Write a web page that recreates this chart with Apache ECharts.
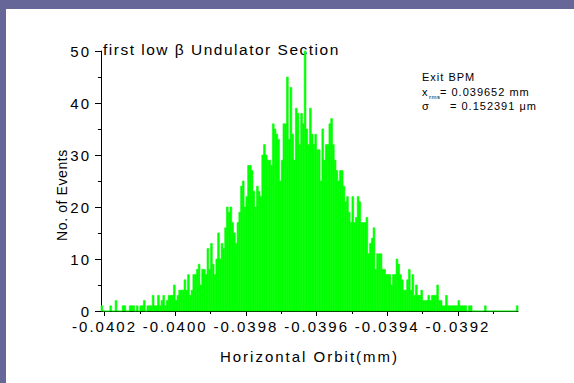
<!DOCTYPE html>
<html>
<head>
<meta charset="utf-8">
<script src="https://cdn.jsdelivr.net/npm/echarts@6/dist/echarts.min.js"></script>
<style>
  html, body { margin: 0; padding: 0; background: #666699; }
  #chart { position: absolute; left: 0; top: 0; width: 574px; height: 383px; }
  #chart text { letter-spacing: 2px; }
  #chart text[style*="15.5px"] { letter-spacing: 1.5px; }
  #chart text[style*="14px"] { letter-spacing: 0.6px; }
  #chart text[style*="11px"] { letter-spacing: 1px; }
  #chart text[style*="6px"] { letter-spacing: 0.5px; }
</style>
</head>
<body>
<div id="chart"></div>
<script>
// Histogram bins: first bin start and bin width (mm)
const binStart = -0.04021;
const binWidth = 0.000005;
// Counts per bin (No. of Events)
const counts = [
  1,0,0,0,0,1,0,0,2,0, 0,0,1,1,0,0,1,1,1,0,
  1,0,1,1,2,0,1,1,1,3, 1,1,3,1,2,3,1,2,3,3,
  3,5,2,3,4,4,4,6,4,7, 3,4,7,7,8,9,5,8,8,7,
  12,8,13,9,7,10,15,10,13,12, 16,20,19,20,17,15,13,17,19,24,
  25,20,22,28,28,27,23,20,24,23, 22,30,32,30,29,29,28,36,35,34,
  33,25,29,36,36,45,33,43,34,29, 39,38,32,38,36,50,35,32,39,34,
  32,34,31,31,25,35,29,32,32,36, 37,32,29,27,25,27,27,24,21,22,
  19,17,22,17,18,22,21,17,17,17, 18,11,13,14,16,8,11,11,11,8,
  8,7,7,7,5,7,7,10,9,7, 6,4,4,6,8,4,7,3,5,3,
  3,4,2,2,2,3,2,3,3,3, 5,2,2,1,1,3,1,1,1,1,
  1,1,2,1,1,1,1,0,1,1, 0,0,0,0,0,0,0,1,0,0,
  0,0,0,0,0,0,0,0,0,0, 0,0,0,0,0,1
];
const xMin = -0.04021, xMax = -0.03903;
const xMajorTicks = [-0.0402, -0.0400, -0.0398, -0.0396, -0.0394, -0.0392];
const xMinorTicks = [-0.0401, -0.0399, -0.0397, -0.0395, -0.0393, -0.0391];

const titleText = 'first low β Undulator Section';
const xName = 'Horizontal Orbit(mm)';
const yName = 'No. of Events';
const infoLine1 = 'Exit BPM';
const xrmsValue = '= 0.039652 mm';
const sigmaValue = '= 0.152391 μm';

const bars = counts.map((c, i) => [binStart + i * binWidth, binStart + (i + 1) * binWidth, c]);

const FONT = "'Liberation Sans', Arial, sans-serif";
const chart = echarts.init(document.getElementById('chart'), null, { renderer: 'svg' });
chart.setOption({
  animation: false,
  backgroundColor: 'transparent',
  graphic: [
    { type: 'rect', shape: { x: 6, y: 9, width: 568, height: 374 }, style: { fill: '#ffffff' }, z: -10 },
    { type: 'text', left: 103, top: 41, style: { text: titleText, fontSize: 15.5, fontFamily: FONT, fill: '#000' } },
    { type: 'text', x: 62, y: 195, rotation: Math.PI / 2,
      style: { text: yName, fontSize: 14, fontFamily: FONT, fill: '#000', align: 'center', verticalAlign: 'middle' } },
    { type: 'text', left: 422, top: 71, style: { text: infoLine1, fontSize: 11, fontFamily: FONT, fill: '#000' } },
    { type: 'text', left: 422, top: 86, style: { text: 'x', fontSize: 11, fontFamily: FONT, fill: '#000' } },
    { type: 'text', left: 429, top: 94, style: { text: 'rms', fontSize: 6, fontFamily: FONT, fill: '#000' } },
    { type: 'text', left: 440, top: 86, style: { text: xrmsValue, fontSize: 11, fontFamily: FONT, fill: '#000' } },
    { type: 'text', left: 422, top: 100, style: { text: 'σ', fontSize: 11, fontFamily: FONT, fill: '#000' } },
    { type: 'text', left: 450, top: 100, style: { text: sigmaValue, fontSize: 11, fontFamily: FONT, fill: '#000' } }
  ],
  grid: { left: 101, right: 56, top: 51, bottom: 72, containLabel: false },
  xAxis: [
    {
      type: 'value', min: xMin, max: xMax, position: 'bottom',
      name: xName, nameLocation: 'middle', nameGap: 38,
      nameTextStyle: { fontSize: 15, fontFamily: FONT, color: '#000' },
      axisLine: { show: true, lineStyle: { color: '#000', width: 1 } },
      axisTick: { show: true, customValues: xMajorTicks, length: 5, lineStyle: { color: '#000' } },
      axisLabel: { show: true, customValues: xMajorTicks, margin: 8, fontSize: 15, fontFamily: FONT, color: '#000',
        formatter: v => v.toFixed(4) },
      splitLine: { show: false }
    },
    {
      type: 'value', min: xMin, max: xMax, position: 'bottom',
      axisLine: { show: false },
      axisTick: { show: true, customValues: xMinorTicks, length: 3, lineStyle: { color: '#000' } },
      axisLabel: { show: false },
      splitLine: { show: false }
    }
  ],
  yAxis: {
    type: 'value', min: 0, max: 50, interval: 10,
    axisLine: { show: true, lineStyle: { color: '#000', width: 1 } },
    axisTick: { show: true, length: 6, lineStyle: { color: '#000' } },
    minorTick: { show: true, splitNumber: 2, length: 3, lineStyle: { color: '#000' } },
    axisLabel: { margin: 10, fontSize: 15, fontFamily: FONT, color: '#000' },
    splitLine: { show: false }
  },
  series: [{
    type: 'custom',
    xAxisIndex: 0,
    yAxisIndex: 0,
    encode: { x: [0, 1], y: 2 },
    data: bars,
    renderItem: function (params, api) {
      const p0 = api.coord([api.value(0), api.value(2)]);
      const p1 = api.coord([api.value(1), 0]);
      return {
        type: 'rect',
        shape: { x: p0[0], y: p0[1], width: p1[0] - p0[0], height: p1[1] - p0[1] },
        style: { fill: '#00ff00', stroke: '#00ff00', lineWidth: 0.6 }
      };
    }
  }]
});
</script>
</body>
</html>
